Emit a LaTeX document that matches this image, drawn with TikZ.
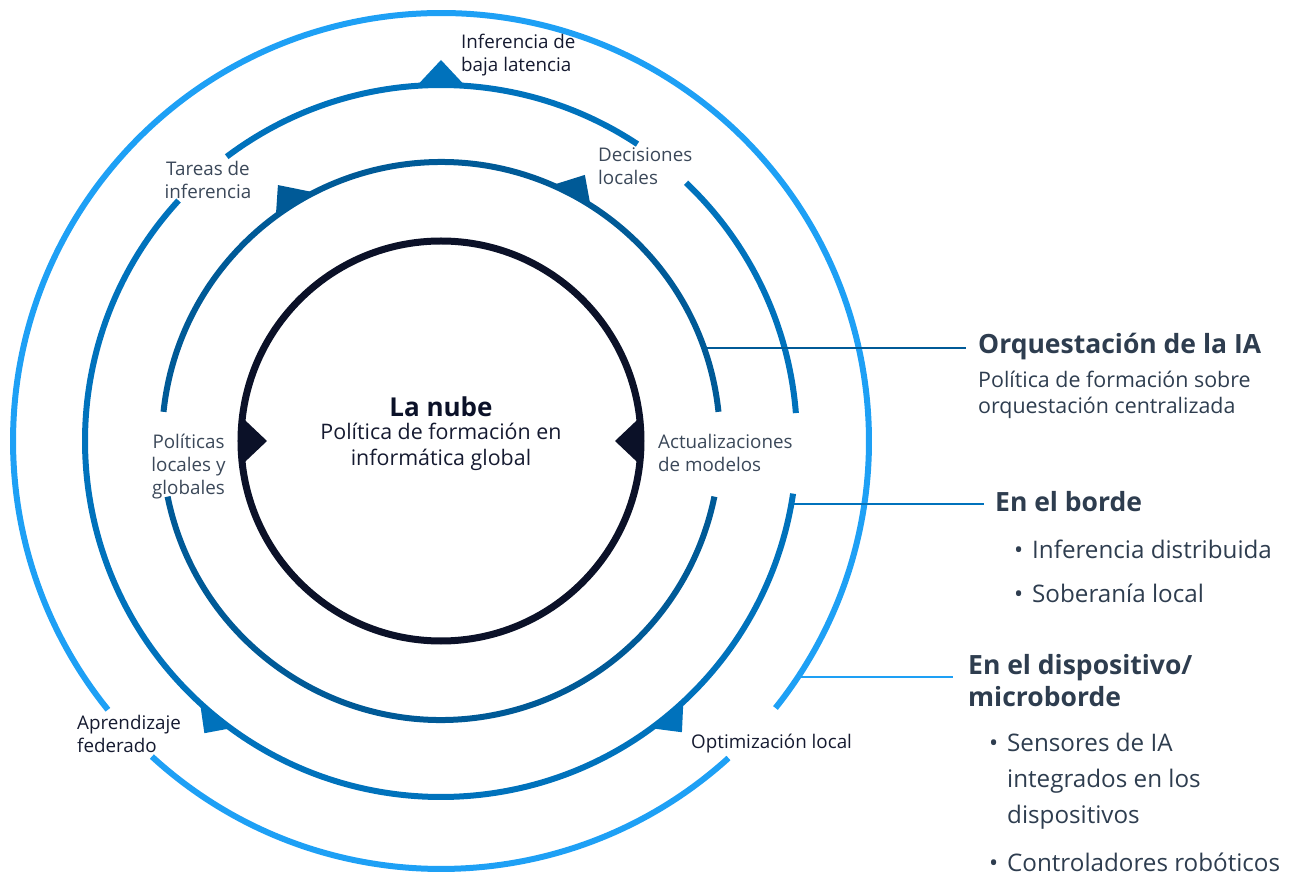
\documentclass[tikz,border=0pt]{standalone}
\usepackage{fontspec}
\setmainfont{Open Sans}
\usetikzlibrary{positioning}

\definecolor{skyring}{HTML}{1EA0F5}
\definecolor{midring}{HTML}{0072BC}
\definecolor{deepring}{HTML}{005A97}
\definecolor{nightring}{HTML}{0B1128}
\definecolor{slatetext}{HTML}{2E3D4F}
\definecolor{labeltext}{HTML}{3B4859}
\definecolor{navytext}{HTML}{151A30}

\tikzset{
  ring/.style={line width=6pt},
  marker/.style={draw=none},
  leader/.style={line width=2.5pt},
  ringlabel/.style={font=\fontsize{18.8}{23}\selectfont, inner sep=0pt, align=left},
  headline/.style={font=\fontsize{26.5}{32}\selectfont\bfseries, text=slatetext, inner sep=0pt, align=left, anchor=west},
  bodytext/.style={font=\fontsize{21.4}{26}\selectfont, text=slatetext, inner sep=0pt, align=left, anchor=west},
  bullettext/.style={font=\fontsize{24.2}{36}\selectfont, text=slatetext, inner sep=0pt, align=left, anchor=west}
}
\newcommand{\dotmark}{\llap{\makebox[18pt][l]{•}}}

\begin{document}
\begin{tikzpicture}[x=1pt, y=1pt]
  \useasboundingbox (-441,-434) rectangle (855,441);

  % Outer ring (device / micro edge)
  \draw[ring, skyring] (227.5:428) arc[start angle=227.5, end angle=312.2, radius=428];
  \draw[ring, skyring] (321.4:428) arc[start angle=321.4, end angle=578.9, radius=428];

  % Edge ring
  \draw[ring, midring] (4.5:356) arc[start angle=4.5, end angle=46.5, radius=356];
  \draw[ring, midring] (56.5:356) arc[start angle=56.5, end angle=127, radius=356];
  \draw[ring, midring] (137.5:356) arc[start angle=137.5, end angle=351.5, radius=356];

  % Orchestration ring
  \draw[ring, deepring] (6:279) arc[start angle=6, end angle=174, radius=279];
  \draw[ring, deepring] (191.5:279) arc[start angle=191.5, end angle=348.5, radius=279];

  % Cloud circle
  \draw[line width=7pt, nightring] (0,0) circle (200);

  % Flow markers on the rings
  \fill[marker, midring] (86.1:356) -- (90:381) -- (93.9:356) -- cycle;
  \fill[marker, deepring] (117:279) -- (122.5:303.5) -- (126.3:279) -- cycle;
  \fill[marker, deepring] (57.6:279) -- (61.6:302.5) -- (66.5:279) -- cycle;
  \fill[marker, midring] (227.4:356) -- (231:376) -- (233.8:356) -- cycle;
  \fill[marker, midring] (306.2:356) -- (309.6:378) -- (312.9:356) -- cycle;
  \fill[marker, nightring] (173.3:200) -- (180:174) -- (186.7:200) -- cycle;
  \fill[marker, nightring] (-6.7:200) -- (0:174) -- (6.7:200) -- cycle;

  % Labels on the rings
  \node[ringlabel, text=navytext, anchor=west] (infbaja) at (20,385.5) {Inferencia de\\baja latencia};
  \node[ringlabel, text=labeltext, align=center] (tareas) at (-233,261.5) {Tareas de\\inferencia};
  \node[ringlabel, text=labeltext, anchor=west] (decis) at (157,275) {Decisiones\\locales};
  \node[ringlabel, text=labeltext, align=center] (polit) at (-252.5,-25.5) {Políticas\\locales y\\globales};
  \node[ringlabel, text=labeltext, anchor=west] (actual) at (217,-12) {Actualizaciones\\de modelos};
  \node[ringlabel, text=navytext, anchor=west] (aprend) at (-364,-292.5) {Aprendizaje\\federado};
  \node[ringlabel, text=navytext, anchor=west] (optim) at (250,-303) {Optimización local};

  % Centre
  \node[font=\fontsize{26}{27}\selectfont\bfseries, text=nightring, inner sep=0pt] (nube) at (0,34) {La nube};
  \node[font=\fontsize{21.4}{26}\selectfont, text=navytext, inner sep=0pt, align=center] (nubetext) at (0,-6) {Política de formación en\\informática global};

  % Right-hand legend
  \node[headline] (orq) at (537,94) {Orquestación de la IA};
  \node[bodytext] (orqtext) at (537,46) {Política de formación sobre\\orquestación centralizada};

  \node[headline] (borde) at (554,-61) {En el borde};
  \node[bullettext] (bordeA) at (591,-108) {\dotmark Inferencia distribuida};
  \node[bullettext] (bordeB) at (591,-152) {\dotmark Soberanía local};

  \node[headline] (micro) at (527,-240) {En el dispositivo/\\microborde};
  \node[bullettext] (microA) at (566,-340) {\dotmark Sensores de IA\\integrados en los\\dispositivos};
  \node[bullettext] (microB) at (566,-421) {\dotmark Controladores robóticos};

  % Leaders from the rings to the legend
  \coordinate (orqfoot) at (263,93);
  \coordinate (bordefoot) at (350.4,-63);
  \coordinate (microfoot) at (357,-236);
  \draw[leader, deepring, shorten >=12pt] (orqfoot) -- (orqfoot -| orq.west);
  \draw[leader, midring, shorten >=11pt] (bordefoot) -- (bordefoot -| borde.west);
  \draw[leader, skyring, shorten >=15pt] (microfoot) -- (microfoot -| micro.west);
\end{tikzpicture}
\end{document}
